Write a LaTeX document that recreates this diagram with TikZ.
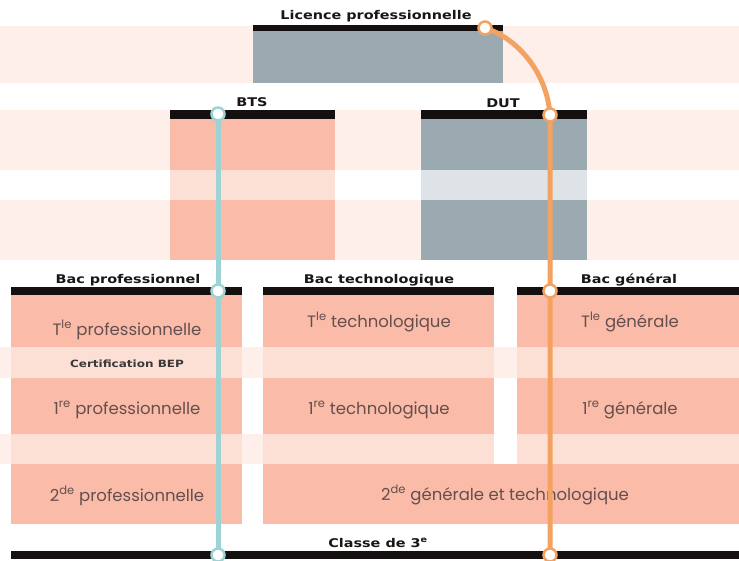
\documentclass[tikz,border=0pt]{standalone}
\usepackage{fontspec}
\setmainfont{Poppins}
\newfontfamily\titlefont[FakeStretch=1.2]{DejaVu Sans}
\definecolor{bandpink}{HTML}{FEEFEA}
\definecolor{salmon}{HTML}{FABCA8}
\definecolor{palesalmon}{HTML}{FCE0D6}
\definecolor{slate}{HTML}{9BA9B1}
\definecolor{paleslate}{HTML}{DDE3E6}
\definecolor{barblack}{HTML}{141010}
\definecolor{teal}{HTML}{9DD3D5}
\definecolor{orangeline}{HTML}{F4A261}
\definecolor{bodycol}{HTML}{654E4E}
\definecolor{titlecol}{HTML}{1A1616}
\tikzset{
  bar/.style={fill=barblack},
  titletext/.style={font=\titlefont\bfseries\fontsize{12}{13}\selectfont, text=titlecol, inner sep=0, anchor=base},
  smalltitle/.style={font=\titlefont\bfseries\fontsize{10}{11}\selectfont, text=titlecol!85!white, inner sep=0, anchor=base},
  bodytext/.style={font=\fontsize{16.5}{18}\selectfont, text=bodycol, inner sep=0, anchor=base},
  tealline/.style={draw=teal, line width=5pt},
  orangepath/.style={draw=orangeline, line width=5pt},
  tealdot/.style={circle, draw=teal, fill=white, line width=2.5pt, minimum size=13pt, inner sep=0},
  orangedot/.style={circle, draw=orangeline, fill=white, line width=2.5pt, minimum size=13pt, inner sep=0},
}
\begin{document}
\begin{tikzpicture}[x=1pt,y=-1pt]
\useasboundingbox (0,0) rectangle (739,561);
\fill[white] (0,0) rectangle (739,561);
% background bands
\fill[bandpink] (0,26) rectangle (739,83);
\fill[bandpink] (0,110) rectangle (739,170);
\fill[bandpink] (0,200) rectangle (739,260);
\fill[bandpink] (0,347) rectangle (739,378);
\fill[bandpink] (0,434) rectangle (494,464);
% Licence
\fill[slate] (253,31) rectangle (503,83);
\fill[bar] (253,25) rectangle (503,31);
% BTS
\fill[salmon] (170,119) rectangle (335,170);
\fill[palesalmon] (170,170) rectangle (335,200);
\fill[salmon] (170,200) rectangle (335,260);
\fill[bar] (170,110) rectangle (335,119);
% DUT
\fill[slate] (421,119) rectangle (587,170);
\fill[paleslate] (421,170) rectangle (587,200);
\fill[slate] (421,200) rectangle (587,260);
\fill[bar] (421,110) rectangle (587,119);
% Bac columns
\foreach \xa/\xb in {11/242, 263/494, 517/739}{
  \fill[salmon] (\xa,295) rectangle (\xb,347);
  \fill[palesalmon] (\xa,347) rectangle (\xb,378);
  \fill[salmon] (\xa,378) rectangle (\xb,434);
  \fill[palesalmon] (\xa,434) rectangle (\xb,464);
  \fill[bar] (\xa,287) rectangle (\xb,295);
}
\fill[salmon] (11,464) rectangle (242,524);
\fill[salmon] (263,464) rectangle (739,524);
\fill[bar] (11,551) rectangle (739,559);
% texts
\node[titletext] (tlic) at (376,20) {Licence professionnelle};
\node[titletext] (tbts) at (252,107) {BTS};
\node[titletext] (tdut) at (503,108) {DUT};
\node[titletext] (tpro) at (128,284) {Bac professionnel};
\node[titletext] (ttec) at (379,284) {Bac technologique};
\node[titletext] (tgen) at (629,284) {Bac général};
\node[titletext] (tcl) at (378,547) {Classe de 3\textsuperscript{e}};
\node[smalltitle] (tbep) at (127,367) {Certification BEP};
\node[bodytext] (p1) at (127,335) {T\textsuperscript{le} professionnelle};
\node[bodytext] (p2) at (127,414) {1\textsuperscript{re} professionnelle};
\node[bodytext] (p3) at (127,501) {2\textsuperscript{de} professionnelle};
\node[bodytext] (t1) at (379,327) {T\textsuperscript{le} technologique};
\node[bodytext] (t2) at (379,414) {1\textsuperscript{re} technologique};
\node[bodytext] (g1) at (630,327) {T\textsuperscript{le} générale};
\node[bodytext] (g2) at (630,414) {1\textsuperscript{re} générale};
\node[bodytext] (gt) at (505,500) {2\textsuperscript{de} générale et technologique};
% path points
\coordinate (cbts) at (218,114);
\coordinate (cpro) at (218,291);
\coordinate (cbt1) at (218,555);
\coordinate (clic) at (485,28);
\coordinate (cdut) at (550,115);
\coordinate (cgen) at (550,291);
\coordinate (cbt2) at (550,555);
\draw[tealline] (cbts) -- (cpro) -- (cbt1);
\draw[orangepath] (clic) .. controls (517,38) and (547,72) .. (cdut) -- (cgen) -- (cbt2);
\node[tealdot] (dbts) at (cbts) {};
\node[tealdot] (dpro) at (cpro) {};
\node[tealdot] (dbt1) at (cbt1) {};
\node[orangedot] (dlic) at (clic) {};
\node[orangedot] (ddut) at (cdut) {};
\node[orangedot] (dgen) at (cgen) {};
\node[orangedot] (dbt2) at (cbt2) {};
\end{tikzpicture}
\end{document}
